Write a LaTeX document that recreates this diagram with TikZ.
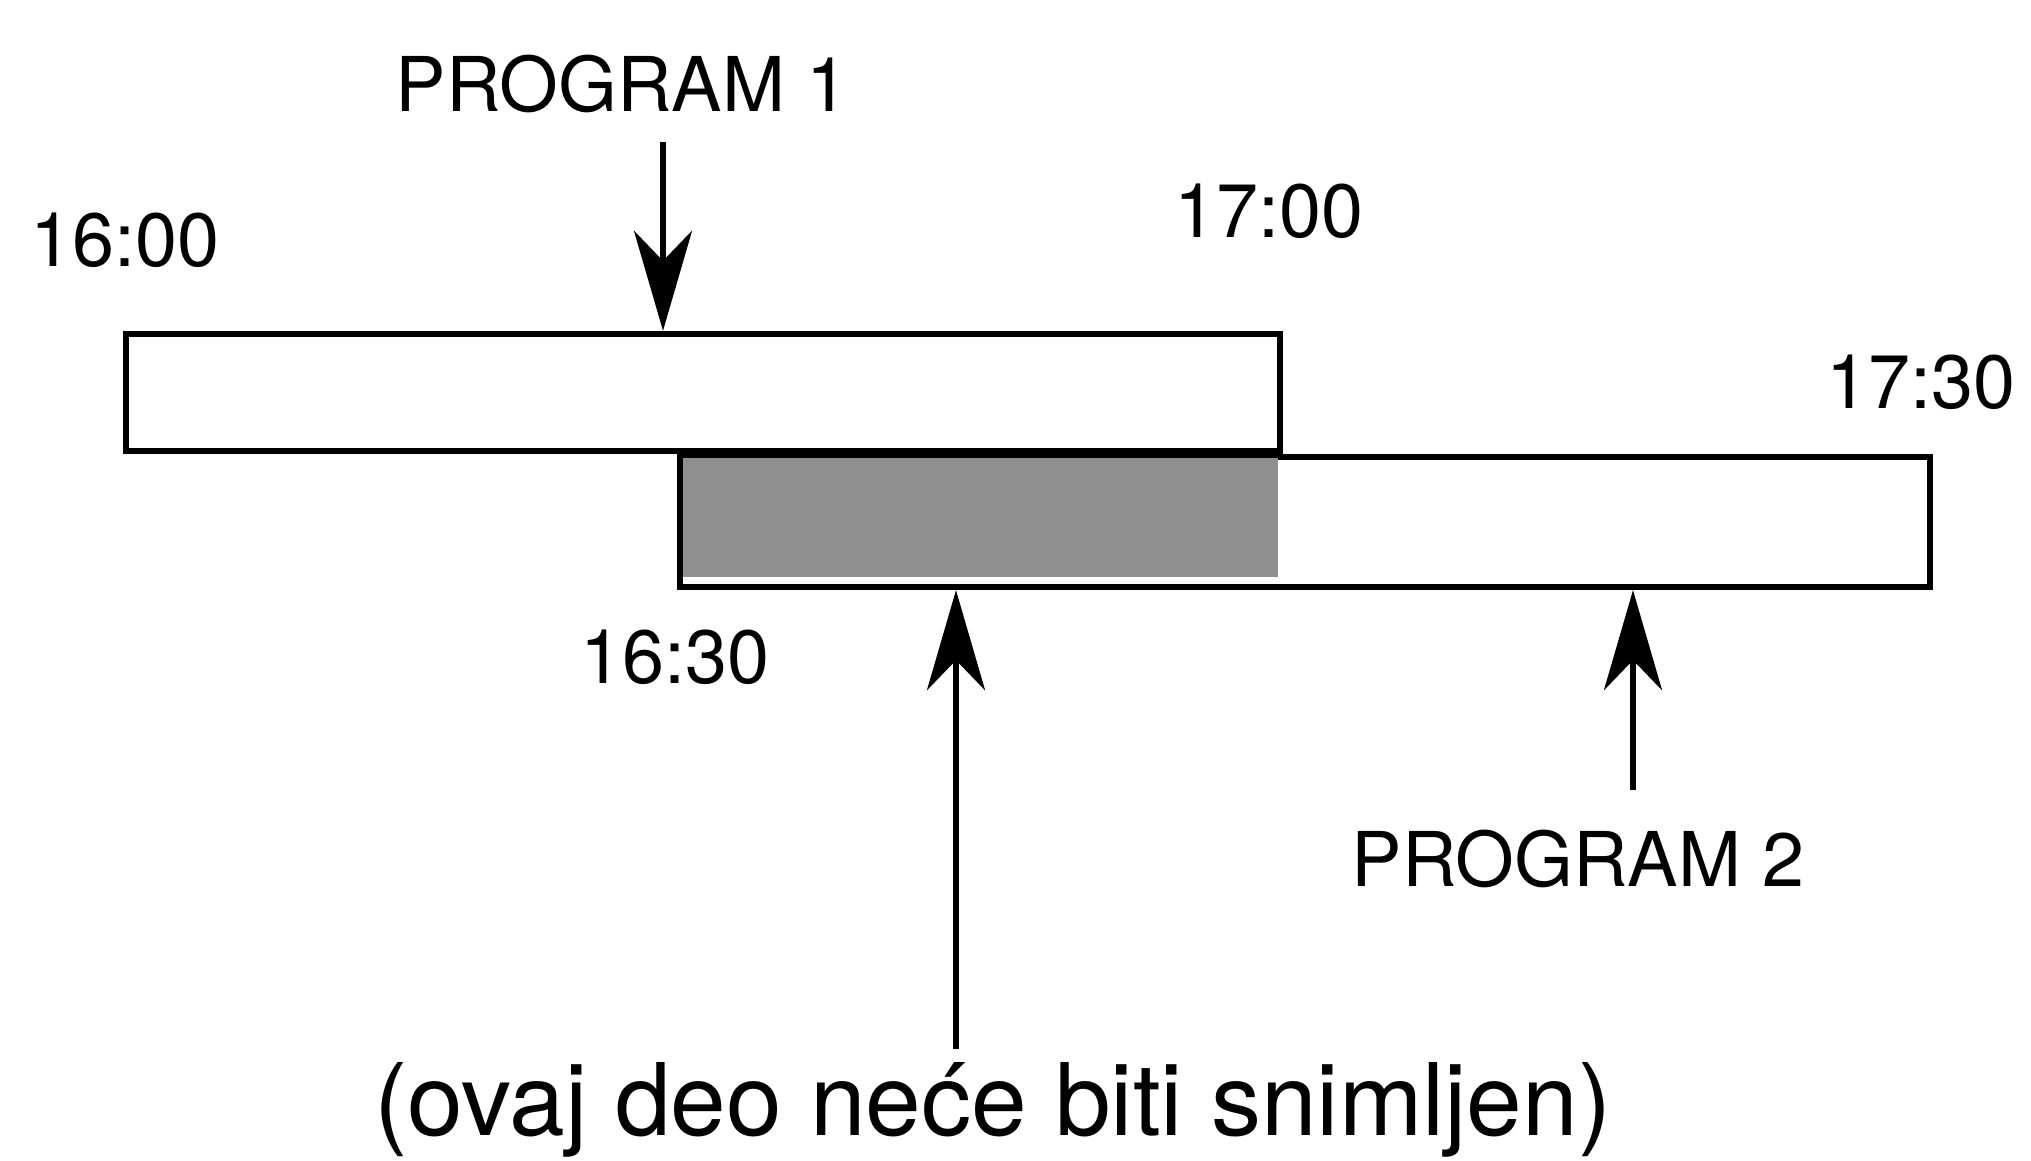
\documentclass[tikz,border=0pt]{standalone}
\usepackage{fontspec}
\setmainfont{TeX Gyre Heros}
\usetikzlibrary{arrows.meta}
\definecolor{lostgrey}{RGB}{143,143,143}
\begin{document}
\begin{tikzpicture}[>={Stealth[length=10mm,width=5.8mm,inset=3mm]},
 bar/.style={draw,line width=1.8pt,fill=white,inner sep=0pt},
 lab/.style={font=\fontsize{21.5}{25}\selectfont,inner sep=0pt},
 note/.style={font=\fontsize{28.5}{34}\selectfont,inner sep=0pt},
 ptr/.style={->,line width=1.5pt}]
\useasboundingbox (0,0) rectangle (20.31,-11.61);
% the two recordings
\node[bar,minimum width=12.50cm,minimum height=1.30cm] (slot2) at (13.05,-5.22) {};
\fill[lostgrey] (6.83,-4.58) rectangle (12.78,-5.77);
\node[bar,minimum width=11.54cm,minimum height=1.17cm] (slot1) at (7.03,-3.925) {};
% times
\node[lab] (t1600) at (1.25,-2.40) {16:00};
\node[lab] (t1700) at (12.69,-2.11) {17:00};
\node[lab] (t1730) at (19.21,-3.82) {17:30};
\node[lab] (t1630) at (6.75,-6.57) {16:30};
% pointers
\node[lab] (prog1) at (6.22,-0.84) {PROGRAM 1};
\node[lab] (prog2) at (15.78,-8.59) {PROGRAM 2};
\node[note] (lost) at (9.93,-11.10) {(ovaj deo neće biti snimljen)};
\coordinate (p1top) at (6.63,-1.42);
\coordinate (p2foot) at (16.33,-7.90);
\coordinate (lostfoot) at (9.56,-10.49);
\draw[ptr] (p1top) -- (p1top |- slot1.north);
\draw[ptr] (p2foot) -- (p2foot |- slot2.south);
\draw[ptr] (lostfoot) -- (lostfoot |- slot2.south);
\end{tikzpicture}
\end{document}
